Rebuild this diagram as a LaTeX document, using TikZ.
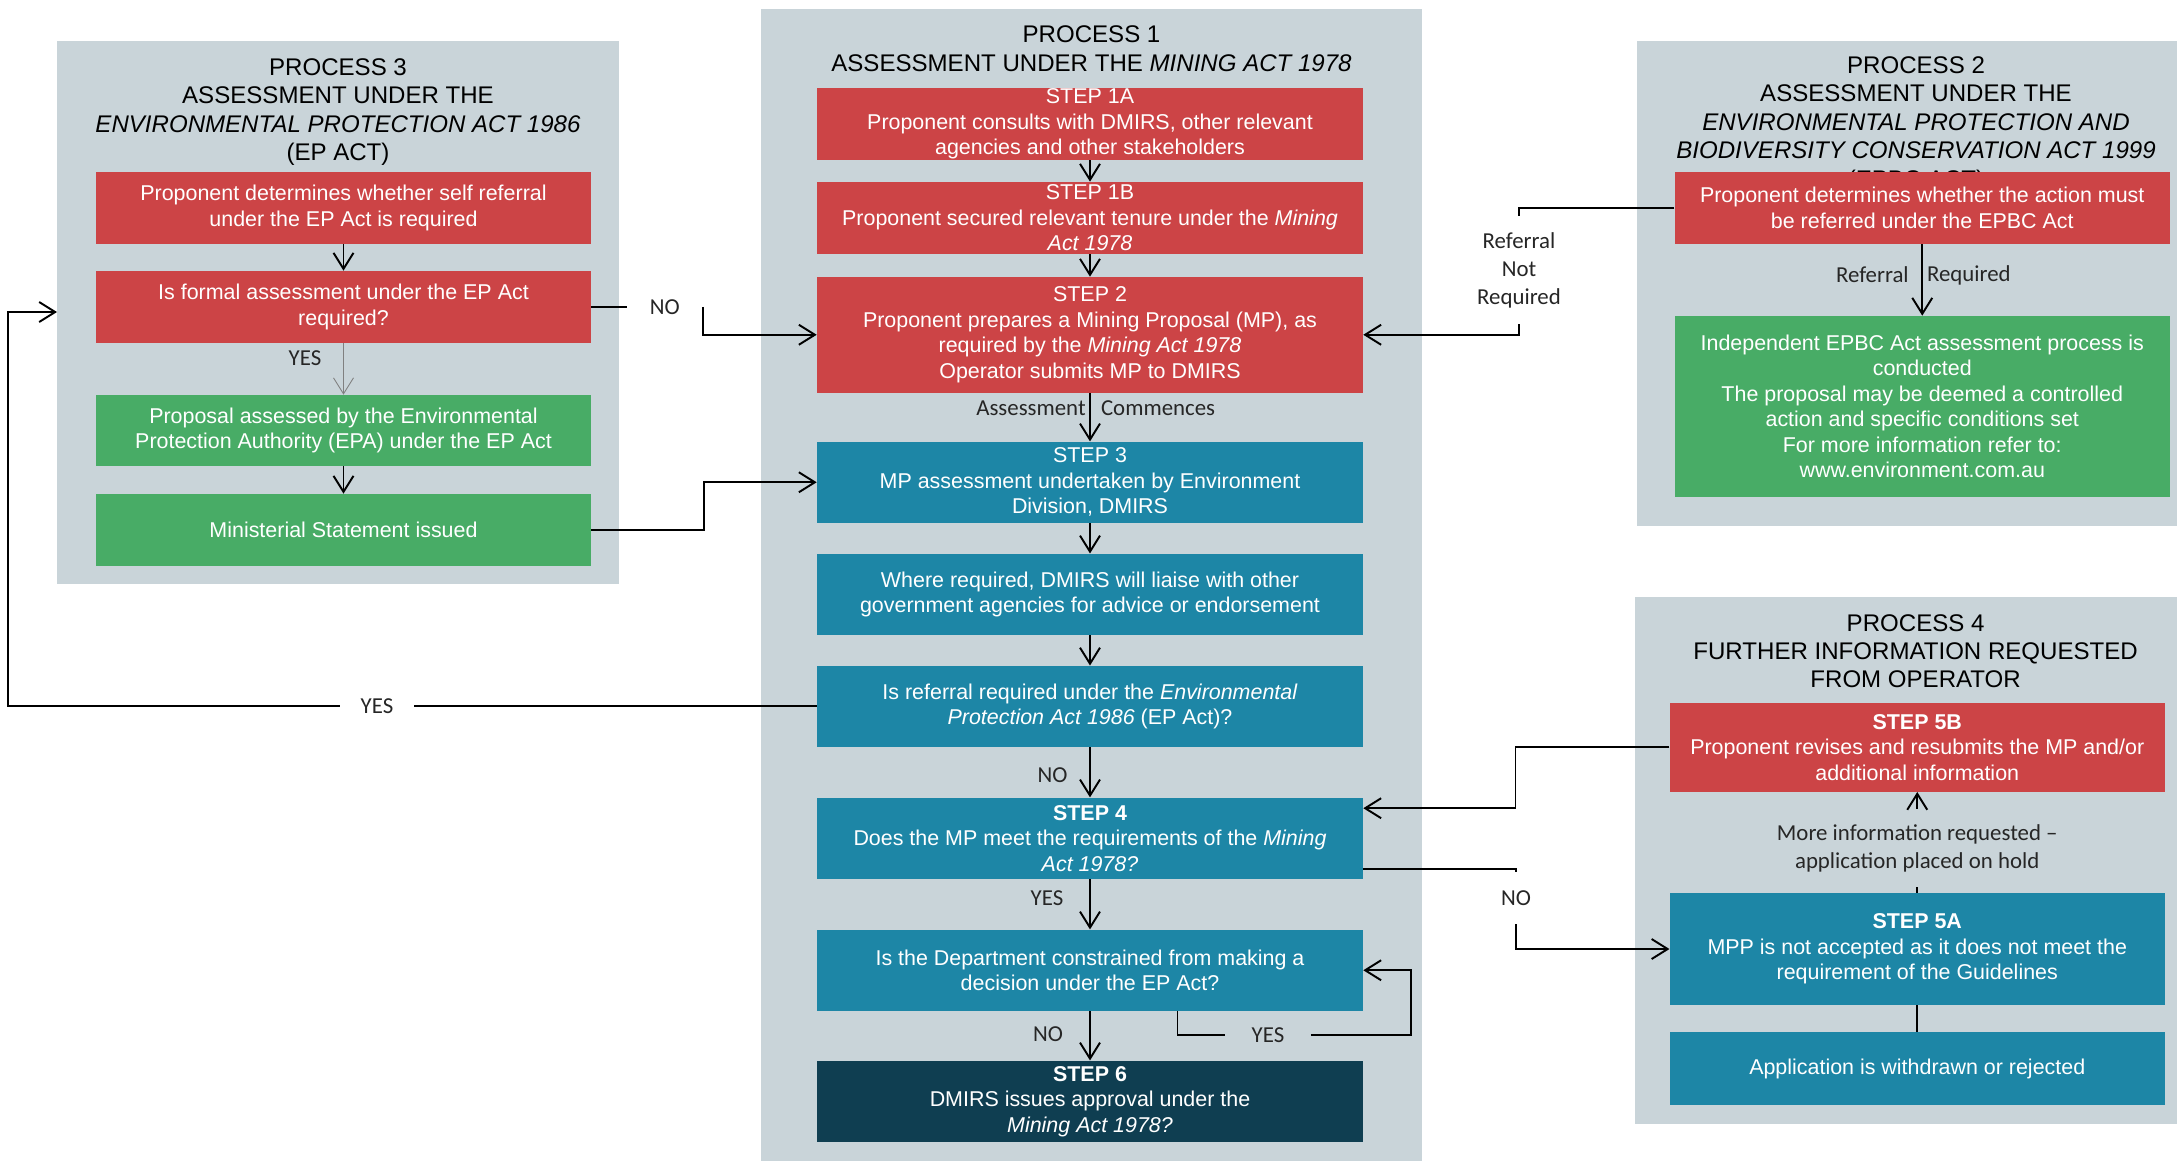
\documentclass[tikz,border=0pt]{standalone}
\usepackage{fontspec}
\setmainfont{Liberation Sans}
\newfontfamily\calibri{Carlito}
\usepackage{tikz}
\usetikzlibrary{arrows.meta,positioning}

\definecolor{panelgrey}{HTML}{C9D4D9}
\definecolor{stepred}{HTML}{CC4446}
\definecolor{stepgreen}{HTML}{48AC66}
\definecolor{stepteal}{HTML}{1D86A6}
\definecolor{stepdark}{HTML}{0F3E51}

\begin{document}
\begin{tikzpicture}[x=0.02cm,y=-0.02cm,
  box/.style={text=white,align=center,inner sep=0pt,font=\fontsize{12.2}{14.5}\selectfont},
  wide/.style={box,minimum width=10.92cm,minimum height=1.62cm},
  narrow/.style={box,minimum width=9.9cm,minimum height=1.43cm},
  title/.style={align=center,inner sep=0pt,font=\fontsize{13.7}{16.2}\selectfont},
  lbl/.style={align=center,inner sep=0pt,text=black!85,font=\calibri\fontsize{13}{16}\selectfont},
  arr/.style={-{Straight Barb[length=0.32cm,width=0.4cm]},line width=1.1pt},
  link/.style={line width=1.1pt}]
\useasboundingbox (0,0) rectangle (2177,1161);

% panels
\fill[panelgrey] (57,41) rectangle (619,583.5);
\fill[panelgrey] (761,9) rectangle (1422,1161);
\fill[panelgrey] (1637,41) rectangle (2177,525.7);
\fill[panelgrey] (1635,597) rectangle (2177,1123.5);

\node[title] (p3title) at (338,112.2) {PROCESS 3\\ASSESSMENT UNDER THE\\\textit{ENVIRONMENTAL PROTECTION ACT 1986}\\(EP ACT)};
\node[title] (p1title) at (1091.5,48.8) {PROCESS 1\\ASSESSMENT UNDER THE \textit{MINING ACT 1978}};
\node[title] (p2title) at (1916,124.5) {PROCESS 2\\ASSESSMENT UNDER THE\\\textit{ENVIRONMENTAL PROTECTION AND}\\\textit{BIODIVERSITY CONSERVATION ACT 1999}\\(EPBC ACT)};
\node[title] (p4title) at (1915.6,651.2) {PROCESS 4\\FURTHER INFORMATION REQUESTED\\FROM OPERATOR};

% process 3
\node[narrow,fill=stepred] (r3a) at (343.5,207.75) {Proponent determines whether self referral\\under the EP Act is required};
\node[narrow,fill=stepred] (r3b) at (343.5,306.75) {Is formal assessment under the EP Act\\required?};
\node[narrow,fill=stepgreen,minimum height=1.42cm] (g3a) at (343.5,430.5) {Proposal assessed by the Environmental\\Protection Authority (EPA) under the EP Act};
\node[narrow,fill=stepgreen,minimum height=1.44cm] (g3b) at (343.5,530) {Ministerial Statement issued};
\coordinate (p3in) at (57,312);

% process 1
\node[wide,fill=stepred,minimum height=1.44cm] (s1a) at (1090,124) {STEP 1A\\Proponent consults with DMIRS, other relevant\\agencies and other stakeholders};
\node[wide,fill=stepred,minimum height=1.44cm] (s1b) at (1090,218) {STEP 1B\\Proponent secured relevant tenure under the \textit{Mining}\\\textit{Act 1978}};
\node[wide,fill=stepred,minimum height=2.31cm] (s2) at (1090,334.75) {STEP 2\\Proponent prepares a Mining Proposal (MP), as\\required by the \textit{Mining Act 1978}\\Operator submits MP to DMIRS};
\node[wide,fill=stepteal] (s3) at (1090,482.25) {STEP 3\\MP assessment undertaken by Environment\\Division, DMIRS};
\node[wide,fill=stepteal] (liaise) at (1090,594.3) {Where required, DMIRS will liaise with other\\government agencies for advice or endorsement};
\node[wide,fill=stepteal] (referral) at (1090,706.35) {Is referral required under the \textit{Environmental}\\\textit{Protection Act 1986} (EP Act)?};
\node[wide,fill=stepteal] (s4) at (1090,838.2) {\textbf{STEP 4}\\Does the MP meet the requirements of the \textit{Mining}\\\textit{Act 1978?}};
\node[wide,fill=stepteal] (dept) at (1090,970.25) {Is the Department constrained from making a\\decision under the EP Act?};
\node[wide,fill=stepdark] (s6) at (1090,1101.25) {\textbf{STEP 6}\\DMIRS issues approval under the\\\textit{Mining Act 1978?}};

% process 2
\node[narrow,fill=stepred,minimum height=1.434cm] (r2) at (1922.25,207.85) {Proponent determines whether the action must\\be referred under the EPBC Act};
\node[narrow,fill=stepgreen,minimum height=3.614cm] (g2) at (1922.25,406.35) {Independent EPBC Act assessment process is\\conducted\\The proposal may be deemed a controlled\\action and specific conditions set\\For more information refer to:\\www.environment.com.au};

% process 4
\node[narrow,fill=stepred,minimum height=1.772cm] (s5b) at (1917.25,747.3) {\textbf{STEP 5B}\\Proponent revises and resubmits the MP and/or\\additional information};
\node[narrow,fill=stepteal,minimum height=2.24cm] (s5a) at (1917.25,949) {\textbf{STEP 5A}\\MPP is not accepted as it does not meet the\\requirement of the Guidelines};
\node[narrow,fill=stepteal,minimum height=1.468cm] (withdrawn) at (1917.25,1068.7) {Application is withdrawn or rejected};

% labels
\node[lbl,minimum width=1.5cm] (no1) at (664.8,306.75) {NO};
\node[lbl] (yes2) at (305,358.5) {YES};
\node[lbl,minimum width=1.48cm] (yes1) at (377,706.35) {YES};
\node[lbl,minimum height=2.146cm] (rnr) at (1519,270.35) {Referral\\Not\\Required};
\node[lbl,anchor=east] (asmt) at (1086,408) {Assessment};
\node[lbl,anchor=west] (comm) at (1100.7,408) {Commences};
\node[lbl,anchor=east] (refl) at (1909,275) {Referral};
\node[lbl,anchor=west] (reqd) at (1926.7,275) {Required};
\node[lbl] (no2) at (1052.5,775) {NO};
\node[lbl] (yes3) at (1047,898) {YES};
\node[lbl] (no3) at (1048,1034) {NO};
\node[lbl,minimum width=1.7cm] (yes4) at (1268,1035) {YES};
\node[lbl,minimum height=1.03cm] (no4) at (1516,898.35) {NO};
\node[lbl,minimum height=1.56cm] (info) at (1917.25,848) {More information requested –\\application placed on hold};

% connectors
\draw[arr] (r3a) -- (r3b);
\draw[arr,line width=0.5pt,draw=gray] (r3b) -- (g3a);
\draw[arr] (g3a) -- (g3b);
\draw[link] (r3b.east) -- (no1.west);
\draw[arr] (no1.east) |- (s2.west);
\draw[arr] (g3b.east) -- ++(113,0) |- (s3.west);
\draw[arr] (s1a) -- (s1b);
\draw[arr] (s1b) -- (s2);
\draw[arr] (s2) -- (s3);
\draw[arr] (s3) -- (liaise);
\draw[arr] (liaise) -- (referral);
\draw[arr] (referral) -- (s4);
\draw[arr] (s4) -- (dept);
\draw[arr] (dept) -- (s6);
\draw[link] (referral.west) -- (yes1.east);
\draw[arr] (yes1.west) -- ++(-331.4,0) |- (p3in);
\draw[link] (r2.west) -| (rnr.north);
\draw[arr] (rnr.south) |- (s2.east);
\draw[arr] (r2) -- (g2);
\draw[link] ([xshift=1.75cm]dept.south) |- (yes4.west);
\draw[arr] (yes4.east) -- ++(100,0) |- (dept.east);
\draw[link] ([yshift=-0.61cm]s4.east) -| (no4.north);
\draw[arr] (no4.south) |- (s5a.west);
\draw[arr] (s5b.west) -- ++(-154,0) |- ([yshift=0.6cm]s4.east);
\draw[link] (s5a) -- (info);
\draw[arr] (info) -- (s5b);
\draw[link] (s5a) -- (withdrawn);
\end{tikzpicture}
\end{document}
